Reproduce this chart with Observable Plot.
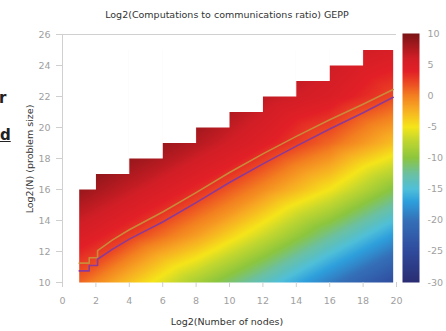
<!DOCTYPE html>
<html><head><meta charset="utf-8">
<script src="https://cdn.jsdelivr.net/npm/d3@7"></script>
<script src="https://cdn.jsdelivr.net/npm/@observablehq/plot@0.6"></script>
<style>
body{margin:0;background:#fff;font-family:"DejaVu Sans",sans-serif}
#root{position:relative;width:446px;height:331px;overflow:hidden;background:#fff}
.abs{position:absolute;white-space:nowrap;line-height:1}
svg{position:absolute;top:0}
</style></head><body><div id="root"></div>
<script>
// sample grid of log2(computations/communications)
const gridX = [1, 4, 8, 12, 16, 20];
const gridY = [10, 13, 16, 19, 22, 25];
const ratio = [
  [1.0, -3.2, -8.6, -13.7, -19.2, -25.0],   // y=10
  [5.1, 2.6, -1.5, -6.7, -12.2, -17.5],     // y=13
  [8.7, 6.6, 3.5, -0.6, -5.0, -10.5],       // y=16
  [11.0, 9.8, 7.4, 4.4, 0.9, -3.3],         // y=19
  [12.0, 12.0, 10.0, 7.0, 5.0, 2.0],        // y=22
  [13.0, 13.0, 11.0, 9.0, 7.0, 5.2]         // y=25
];
const heatX = [1, 19.8];
const heatY = [10, 25];
// staircase upper edge (problem size limit)
const stepX1 = [1, 2, 4, 6, 8, 10, 12, 14, 16, 18];
const stepX2 = [2, 4, 6, 8, 10, 12, 14, 16, 18, 19.8];
const stepTop = [16, 17, 18, 19, 20, 21, 22, 23, 24, 25];
// two curves
const purpleX = [1, 1.6, 1.6, 2.1, 2.1, 3, 4, 6, 8, 10, 12, 14, 16, 18, 19.8];
const purpleY = [10.75, 10.75, 11.1, 11.1, 11.5, 12.15, 12.8, 13.9, 15.15, 16.45, 17.65, 18.8, 19.9, 20.95, 21.95];
const orangeX = [1, 1.6, 1.6, 2.1, 2.1, 3, 4, 6, 8, 10, 12, 14, 16, 18, 19.8];
const orangeY = [11.25, 11.25, 11.6, 11.6, 12.05, 12.75, 13.4, 14.55, 15.8, 17.1, 18.3, 19.43, 20.5, 21.5, 22.45];
// ticks
const xTicks = [0, 2, 4, 6, 8, 10, 12, 14, 16, 18, 20];
const yTicks = [10, 12, 14, 16, 18, 20, 22, 24, 26];
const cbTicks = [-30, -25, -20, -15, -10, -5, 0, 5, 10];
// colour map stops
const colorStops = [-30, -25, -20, -17, -15, -12.5, -10, -7, -5, -2, 0, 2, 4, 6, 10];
const colorRange = ["#2a2d72", "#2f4a9c", "#3470b8", "#2e9fdc", "#4fbfd9", "#6cc0a0", "#8cc63e", "#c5d82e", "#f5e51a", "#f7a823", "#f37f20", "#ec4a23", "#e21f26", "#d21e26", "#7a1416"];

const samples = [];
gridY.forEach((y, i) => gridX.forEach((x, j) => samples.push({x, y, v: ratio[i][j]})));
const blocks = stepTop.map((t, i) => ({x1: stepX1[i], x2: stepX2[i], top: t}));
const purple = purpleX.map((x, i) => ({x, y: purpleY[i]}));
const orange = orangeX.map((x, i) => ({x, y: orangeY[i]}));

const color = {type: "linear", domain: colorStops, range: colorRange, clamp: true};
const font = {fontFamily: "DejaVu Sans", fontSize: "9.5px", background: "transparent", overflow: "visible"};

const main = Plot.plot({
  width: 446, height: 331,
  marginLeft: 62, marginRight: 50, marginTop: 34, marginBottom: 49,
  x: {domain: [0, 20]}, y: {domain: [10, 26]},
  color, style: font,
  marks: [
    Plot.raster(samples, {x: "x", y: "y", fill: "v", interpolate: "barycentric",
      x1: heatX[0], x2: heatX[1], y1: heatY[0], y2: heatY[1]}),
    Plot.rect(blocks, {x1: "x1", x2: "x2", y1: "top", y2: 26, fill: "white", stroke: "white", strokeWidth: 1}),
    Plot.line(orange, {x: "x", y: "y", stroke: "#c98a3a", strokeWidth: 1.6}),
    Plot.line(purple, {x: "x", y: "y", stroke: "#8a3a9a", strokeWidth: 1.6}),
    Plot.ruleY([26], {stroke: "#d0d0d0"}),
    Plot.ruleX([0], {stroke: "#d0d0d0"}),
    Plot.axisY({ticks: yTicks, tickSize: 6, tickPadding: 6, stroke: "#cfcfcf", fill: "#a0a0a0", label: null, tickFormat: d => String(d)}),
    Plot.axisX({ticks: xTicks, tickSize: 5, tickPadding: 10, stroke: "#cfcfcf", fill: "#a0a0a0", label: null, tickFormat: d => String(d)})
  ]
});

const bar = Plot.plot({
  width: 61, height: 331,
  marginLeft: 0, marginRight: 44, marginTop: 33, marginBottom: 49,
  x: {domain: [0, 1], axis: null}, y: {domain: [-30, 10], axis: null},
  color, style: font,
  marks: [
    Plot.raster({fill: (x, y) => y, x1: 0, x2: 1, y1: -30, y2: 10}),
    Plot.axisY({anchor: "right", ticks: cbTicks, tickSize: 0, tickPadding: 8, fill: "#a0a0a0", label: null, tickFormat: d => String(d)})
  ]
});

const root = document.getElementById("root");
root.appendChild(main);
bar.style.left = "402px";
root.appendChild(bar);

function label(text, css) {
  const d = document.createElement("div");
  d.className = "abs";
  d.textContent = text;
  Object.assign(d.style, css);
  root.appendChild(d);
  return d;
}
label("Log2(Computations to communications ratio) GEPP", {left: "227px", top: "10px", transform: "translateX(-50%)", fontSize: "9.5px", color: "#333"});
label("Log2(Number of nodes)", {left: "227px", top: "317px", transform: "translateX(-50%)", fontSize: "9.5px", color: "#333"});
label("Log2(N) (problem size)", {left: "30px", top: "159px", transform: "translate(-50%,-50%) rotate(-90deg)", fontSize: "9.5px", color: "#333"});
// cropped fragments of surrounding page text at the left edge
label("r", {left: "-1px", top: "91px", fontSize: "15px", fontWeight: "bold", color: "#222"});
label("d", {left: "0px", top: "128px", fontSize: "15px", fontWeight: "bold", color: "#222", textDecoration: "underline"});
</script>
</body></html>
